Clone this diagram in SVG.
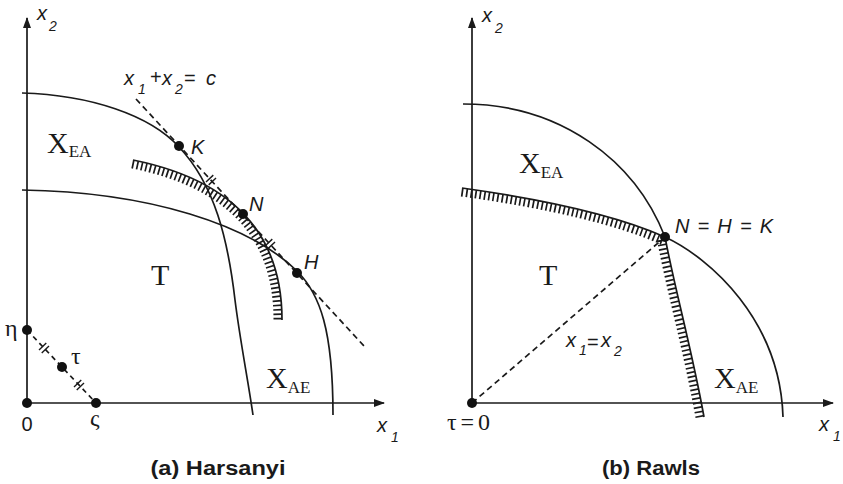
<svg xmlns="http://www.w3.org/2000/svg" width="843" height="484" viewBox="0 0 843 484">
<defs>
<style>
.ln{fill:none;stroke:#1a1a1a;stroke-width:1.7}
.dsh{stroke-dasharray:6 4}
.dsh2{stroke-dasharray:5 4}
.hatch{fill:none;stroke:#1a1a1a;stroke-width:17;stroke-dasharray:1.7 2.8}
.dot{fill:#111}
.hs{fill:none;stroke:#1a1a1a;stroke-width:1.4}
.it{font-family:"Liberation Sans",Arial,sans-serif;font-style:italic;font-size:20px;fill:#1a1a1a}
.up{font-family:"Liberation Sans",Arial,sans-serif;font-size:20px;fill:#1a1a1a}
.sub{font-size:14px}
.rg{font-family:"Liberation Serif","Times New Roman",serif;font-size:30px;fill:#1a1a1a}
.rs{font-size:17px}
.gr{font-family:"Liberation Serif","Times New Roman",serif;font-size:24px;fill:#1a1a1a}
.cap{font-family:"Liberation Sans",Arial,sans-serif;font-weight:bold;font-size:20px;fill:#1a1a1a;text-anchor:middle}
</style>
<marker id="arr" markerWidth="11" markerHeight="8" refX="10" refY="4" orient="auto" markerUnits="userSpaceOnUse"><path d="M0,0 L11,4 L0,8 z" fill="#1a1a1a"/></marker>
<g id="hash"><path class="hs" d="M-2,-5 V5 M2,-5 V5"/></g>
<clipPath id="clipL"><path d="M133,160 Q282,190 282,320 L282,345 L100,345 L100,160 Z"/></clipPath>
<clipPath id="clipR"><path d="M462,188 Q598,207 665,237 C675,290 692,350 704,417 L704,440 L440,440 L440,188 Z"/></clipPath>
</defs>

<!-- Panel (a) Harsanyi -->
<g id="axes-a">
<line class="ln" x1="27" y1="403" x2="27" y2="18" marker-end="url(#arr)"/>
<line class="ln" x1="27" y1="403" x2="384" y2="403" marker-end="url(#arr)"/>
<text class="it" x="37" y="20">x<tspan class="sub" x="49" y="31">2</tspan></text>
<text class="it" x="377" y="432">x<tspan class="sub" x="391" y="442">1</tspan></text>
</g>

<g id="connectors-a">
<path id="frontier-EA-a" class="ln" d="M22,93 C90,95 150,115 179,147 C215,185 228,240 235,300 C240,340 248,380 253,415"/>
<path id="frontier-AE-a" class="ln" d="M22,190 C150,192 250,225 297,271 C320,294 333,330 333,415"/>
<path id="budget-line" class="ln dsh" d="M136,99 L364,346"/>
<path id="eta-sigma" class="ln dsh2" d="M27,330 L96,403"/>
<path class="hatch" clip-path="url(#clipL)" d="M133,160 Q282,190 282,320"/>
<path id="indiff-a" class="ln" d="M133,160 Q282,190 282,320"/>
<use href="#hash" transform="translate(211,180) rotate(47)"/>
<use href="#hash" transform="translate(270,244) rotate(47)"/>
<use href="#hash" transform="translate(44,348) rotate(46.6)"/>
<use href="#hash" transform="translate(79,385) rotate(46.6)"/>
</g>

<g id="label-budget">
<text class="it" x="124" y="85">x</text>
<text class="it sub" x="138" y="94">1</text>
<text class="up" x="150" y="84" font-size="16">+</text>
<text class="it" x="162" y="85">x</text>
<text class="it sub" x="175" y="94">2</text>
<text class="up" x="184" y="85">=</text>
<text class="it" x="206" y="85">c</text>
</g>

<g id="node-K"><circle class="dot" cx="179" cy="146" r="5"/><text class="it" x="191" y="154">K</text></g>
<g id="node-N"><circle class="dot" cx="243" cy="214" r="5"/><text class="it" x="249" y="211">N</text></g>
<g id="node-H"><circle class="dot" cx="297" cy="273" r="5"/><text class="it" x="304" y="269">H</text></g>
<g id="node-eta"><circle class="dot" cx="27" cy="330" r="5"/><text class="gr" x="5" y="336">η</text></g>
<g id="node-tau"><circle class="dot" cx="62" cy="367" r="5"/><text class="gr" x="71" y="364">τ</text></g>
<g id="node-sigma"><circle class="dot" cx="96" cy="403" r="5"/><text class="gr" x="90" y="426">ς</text></g>
<g id="node-origin-a"><circle class="dot" cx="27" cy="403" r="5"/><text class="up" x="27" y="431" text-anchor="middle" font-size="21">0</text></g>

<g id="region-EA-a"><text class="rg" x="47" y="153">X<tspan class="rs" dy="4">EA</tspan></text></g>
<g id="region-T-a"><text class="rg" x="151" y="285">T</text></g>
<g id="region-AE-a"><text class="rg" x="266" y="388">X<tspan class="rs" dy="5">AE</tspan></text></g>

<text class="cap" x="218" y="475" textLength="135" lengthAdjust="spacingAndGlyphs">(a) Harsanyi</text>

<!-- Panel (b) Rawls -->
<g id="axes-b">
<line class="ln" x1="472" y1="403" x2="472" y2="18" marker-end="url(#arr)"/>
<line class="ln" x1="472" y1="403" x2="833" y2="403" marker-end="url(#arr)"/>
<text class="it" x="482" y="22">x<tspan class="sub" x="495" y="33">2</tspan></text>
<text class="it" x="819" y="431">x<tspan class="sub" x="833" y="441">1</tspan></text>
</g>

<g id="connectors-b">
<path id="frontier-EA-b" class="ln" d="M463,104 C560,104 635,160 665,237"/>
<path id="frontier-AE-b" class="ln" d="M665,237 C710,258 780,320 783,417"/>
<path class="hatch" clip-path="url(#clipR)" d="M462,188 Q598,207 665,237 C675,290 692,350 704,417"/>
<path id="indiff-b" class="ln" d="M462,188 Q598,207 665,237 C675,290 692,350 704,417"/>
<path id="diagonal" class="ln dsh" d="M472,403 L665,237"/>
</g>

<g id="label-diagonal">
<text class="it" x="566" y="347">x</text>
<text class="it sub" x="579" y="355">1</text>
<text class="up" x="587" y="349">=</text>
<text class="it" x="601" y="347">x</text>
<text class="it sub" x="614" y="356">2</text>
</g>

<g id="node-NHK"><circle class="dot" cx="665" cy="237" r="5"/><text class="it" x="675" y="233" font-size="21" textLength="98" lengthAdjust="spacing">N = H = K</text></g>
<g id="node-origin-b"><circle class="dot" cx="472" cy="403" r="5"/><text class="gr" x="447" y="430" font-size="21" textLength="43" lengthAdjust="spacing">τ = 0</text></g>

<g id="region-EA-b"><text class="rg" x="519" y="173">X<tspan class="rs" dy="5">EA</tspan></text></g>
<g id="region-T-b"><text class="rg" x="539" y="285">T</text></g>
<g id="region-AE-b"><text class="rg" x="714" y="388">X<tspan class="rs" dy="5">AE</tspan></text></g>

<text class="cap" x="651" y="475" textLength="98" lengthAdjust="spacingAndGlyphs">(b) Rawls</text>
</svg>
